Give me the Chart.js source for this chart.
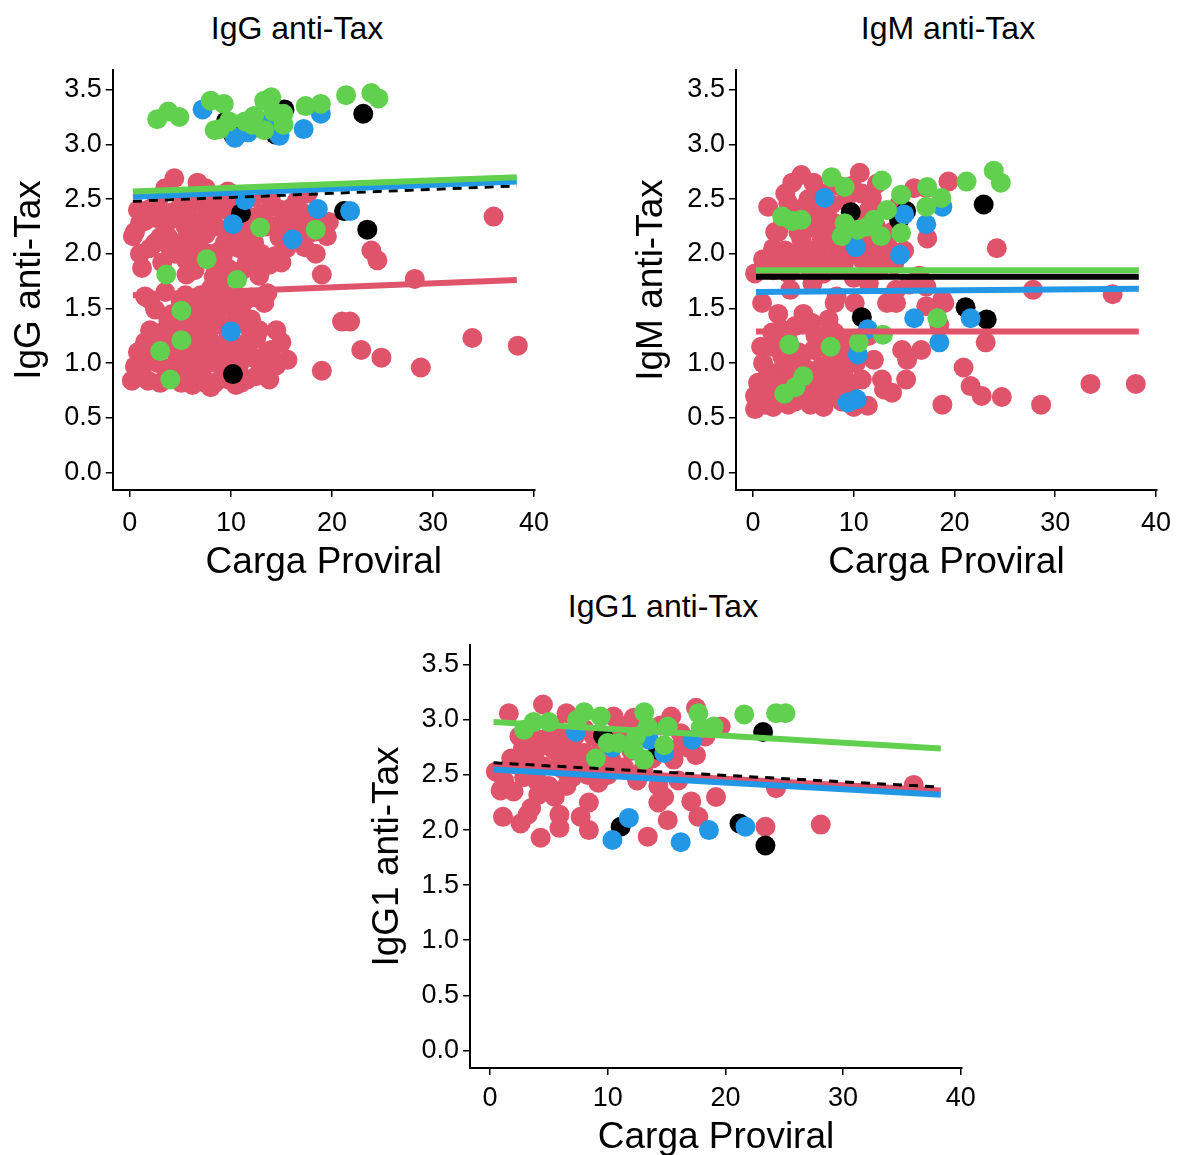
<!DOCTYPE html>
<html>
<head>
<meta charset="utf-8">
<script src="https://cdn.jsdelivr.net/npm/chart.js@4.4.1/dist/chart.umd.min.js"></script>
<style>
  body { margin: 0; background: #fff; width: 1181px; height: 1155px; overflow: hidden; position: relative;
         font-family: "Liberation Sans", Arial, sans-serif; }
  .panel { position: absolute; }
  .ttl { position: absolute; width: 300px; text-align: center; font-size: 32px; line-height: 38px; color: #000; }
</style>
</head>
<body>
<div class="ttl" style="left:147px; top:9px">IgG anti-Tax</div>
<div class="ttl" style="left:798px; top:9px">IgM anti-Tax</div>
<div class="ttl" style="left:513px; top:587px">IgG1 anti-Tax</div>

<div class="panel" style="left:0; top:0; width:590px; height:590px"><canvas id="igg"></canvas></div>
<div class="panel" style="left:620px; top:0; width:561px; height:590px"><canvas id="igm"></canvas></div>
<div class="panel" style="left:350px; top:575px; width:640px; height:590px"><canvas id="igg1"></canvas></div>

<script>
// tick labels
const xTicks = [0, 10, 20, 30, 40];
const yTicks = [0, 0.5, 1, 1.5, 2, 2.5, 3, 3.5];
const xLabel = 'Carga Proviral';

// x range of the fitted lines
const fitX = [0.3, 38.3];

// ---- IgG anti-Tax ----
const iggRedX = [4.4, 6.7, 9.7, 7.5, 0.5, 0.3, 1.2, 5.6, 8.3, 9.8, 19.0, 23.9, 24.5, 15.0, 14.3, 15.0, 14.4, 19.5, 19.7, 17.0,
  17.3, 1.8, 3.5, 5.1, 6.7, 8.4, 9.4, 8.4, 11.6, 12.3, 13.3, 11.1, 9.1, 2.8, 5.1, 7.1, 9.7, 12.3, 15.6, 17.6,
  6.4, 13.6, 36.0, 28.2, 2.5, 3.0, 4.2, 6.0, 7.5, 8.0, 10.2, 10.8, 12.5, 13.0, 4.5, 6.5, 3.5, 16.0, 16.5, 18.0,
  11.5, 7.0, 10.5, 12.8, 1.0, 2.0, 5.5, 15.5, 8.8, 18.4,
  1.5, 2.2, 3.0, 3.8, 4.8, 5.8, 6.2, 7.2, 8.2, 9.0, 9.5, 10.5, 11.2, 12.0, 12.8, 13.5, 14.0, 15.2, 16.0, 17.0,
  18.2, 2.5, 4.0, 5.5, 6.8, 7.8, 9.2, 10.0, 11.0, 12.5, 13.8, 16.5, 14.8, 3.2, 1.0, 8.5, 11.8, 0.8,
  1.5, 9.7, 13.3, 2.5, 21.0, 21.8, 6.7, 8.4, 1.5, 6.1, 7.7, 11.6, 15.0, 15.6, 22.9, 24.9, 19.0, 0.5, 0.2, 1.8,
  5.1, 7.1, 8.4, 11.6, 13.0, 7.7, 9.4, 13.3, 10.4, 5.1, 28.8, 33.9, 38.4, 3.5, 5.0, 7.0, 8.6, 3.8, 6.2, 9.0,
  10.5, 12.0, 4.5, 6.8, 8.0, 9.8, 12.5, 2.8, 4.0, 6.0, 8.8, 10.8, 12.2, 14.0, 3.0, 6.2, 7.5, 9.2, 10.5, 12.5,
  14.5, 13.8, 5.5, 11.2, 4.2, 2.0,
  0.8, 1.2, 2.2, 2.8, 3.5, 4.2, 5.0, 5.8, 6.5, 7.2, 7.8, 8.2, 9.0, 9.5, 10.0, 11.0, 11.5, 12.8, 13.5, 14.5,
  6.0, 7.0, 8.5, 9.8, 3.5, 4.8, 8.0, 11.0, 5.5, 8.0, 12.0, 2.0];
const iggRedY = [2.69, 2.65, 2.57, 2.60, 2.20, 2.16, 1.87, 1.81, 1.79, 1.86, 1.81, 2.03, 1.94, 2.40, 2.25, 1.92, 1.98, 2.16, 2.29, 2.25,
  2.06, 2.40, 2.25, 2.10, 2.04, 2.25, 2.10, 1.94, 1.94, 2.10, 2.37, 1.85, 1.76, 2.49, 2.46, 2.46, 2.52, 2.52, 2.37, 2.55,
  1.85, 1.64, 2.34, 1.77, 2.33, 2.15, 2.38, 2.30, 2.18, 2.38, 2.35, 2.05, 2.22, 2.00, 2.00, 2.55, 2.60, 2.20, 2.48, 2.32,
  2.28, 1.95, 1.62, 1.80, 2.28, 2.05, 2.25, 2.05, 2.02, 2.00,
  2.30, 2.42, 2.38, 2.15, 2.32, 2.42, 2.15, 2.30, 2.48, 2.40, 2.22, 2.48, 2.40, 2.18, 2.35, 2.25, 2.48, 2.30, 2.42, 2.38,
  2.20, 2.10, 2.05, 1.95, 2.10, 2.00, 1.98, 2.12, 2.20, 1.95, 1.90, 2.12, 2.15, 1.92, 2.00, 1.85, 2.05, 2.40,
  1.61, 1.61, 1.55, 1.49, 1.38, 1.38, 1.37, 1.43, 1.19, 1.22, 1.30, 1.19, 1.19, 1.03, 1.12, 1.05, 0.93, 0.97, 0.84, 0.84,
  0.82, 0.91, 0.82, 0.85, 0.97, 1.06, 1.00, 1.06, 1.12, 1.06, 0.96, 1.23, 1.16, 1.65, 1.58, 1.62, 1.58, 1.40, 1.50, 1.35,
  1.45, 1.40, 1.25, 1.15, 1.20, 1.25, 1.22, 1.00, 0.95, 0.98, 1.10, 0.98, 1.05, 1.12, 0.82, 0.80, 0.82, 0.86, 0.80, 0.88,
  0.98, 0.85, 1.40, 1.55, 1.12, 1.30,
  1.10, 0.95, 1.05, 1.20, 1.30, 1.45, 1.30, 1.10, 1.30, 1.45, 1.55, 1.35, 1.50, 1.15, 0.92, 1.15, 1.35, 1.30, 0.92, 1.30,
  0.88, 1.05, 1.00, 0.85, 0.85, 0.92, 0.78, 0.82, 1.62, 1.68, 1.60, 1.58];
const iggBlackX = [10.2, 14.4, 15.3, 23.1, 9.5, 11.0, 21.2, 23.5, 10.2];
const iggBlackY = [3.09, 3.09, 3.32, 3.28, 3.21, 2.37, 2.39, 2.22, 0.90];
const iggBlueX = [7.2, 10.4, 11.7, 14.8, 17.2, 18.9, 13.6, 10.2, 11.4, 16.1, 18.6, 21.8, 10.0];
const iggBlueY = [3.32, 3.06, 3.11, 3.08, 3.14, 3.28, 3.21, 2.27, 2.49, 2.13, 2.41, 2.39, 1.29];
const iggGreenX = [2.7, 3.8, 4.9, 8.0, 9.3, 8.9, 9.8, 11.4, 12.3, 12.1, 13.3, 14.0, 13.3, 14.2, 15.2, 15.2, 17.4, 18.9, 21.4, 23.9,
  24.6, 8.4, 12.9, 18.4, 7.6, 3.6, 10.6, 5.1, 5.1, 3.0, 4.0];
const iggGreenY = [3.23, 3.30, 3.25, 3.40, 3.37, 3.14, 3.21, 3.21, 3.26, 3.18, 3.40, 3.43, 3.13, 3.30, 3.28, 3.18, 3.35, 3.37, 3.45, 3.47,
  3.42, 3.13, 2.24, 2.22, 1.95, 1.81, 1.76, 1.48, 1.21, 1.11, 0.85];
const iggFitRed = [1.62, 1.76];
const iggFitBlack = [2.48, 2.62];
const iggFitBlue = [2.52, 2.66];
const iggFitGreen = [2.57, 2.70];

// ---- IgM anti-Tax ----
const igmRedX = [4.8, 10.6, 19.4, 1.5, 3.9, 3.5, 24.2, 17.3, 17.2, 12.3, 6.4, 11.8, 6.8, 10.8, 9.2, 3.2, 4.8, 6.4, 8.1, 4.8,
  7.6, 11.4, 12.0, 2.8, 9.6, 13.0, 15.0, 6.4, 8.1, 5.7, 2.5, 4.0, 7.2, 9.0, 10.5, 11.0, 13.8, 14.5, 16.0, 5.5,
  8.5, 2.0, 3.5, 5.5, 7.0, 9.0, 10.0, 12.5, 14.0, 16.5, 15.5,
  2.2, 3.0, 3.8, 4.5, 5.2, 6.0, 6.8, 7.5, 8.2, 8.8, 9.5, 10.2, 10.8, 11.5, 12.2, 12.8, 13.5, 4.2, 6.0, 8.0,
  11.8, 2.0, 5.0, 7.8, 3.2, 6.0, 9.8, 1.0,
  0.2, 0.9, 3.7, 27.8, 35.7, 23.1, 20.9, 21.6, 22.7, 24.7, 28.6, 18.8, 33.5, 38.0, 18.8, 17.2, 15.2, 12.8, 13.8, 14.8,
  14.2, 11.5, 8.3, 5.9, 14.2, 17.2, 8.1, 10.1, 13.3, 19.0, 16.7, 15.3, 13.0, 12.0, 18.5,
  0.2, 0.2, 1.5, 2.8, 4.2, 5.7, 7.3, 5.7, 8.1, 6.8, 4.8, 2.9, 1.9, 4.2, 5.8, 8.1, 9.1, 2.3, 10.8, 11.4,
  5.3, 9.6, 1.0, 3.5, 6.5, 7.5, 9.8, 3.0, 7.0, 8.8, 10.2, 1.2, 4.5, 6.2, 2.5, 11.5, 0.8,
  0.5, 1.0, 2.0, 2.5, 3.5, 3.8, 4.8, 5.2, 6.0, 6.5, 7.5, 8.5, 9.0, 7.8, 6.0, 3.0, 4.5, 8.5, 10.0, 2.0,
  1.5, 5.0, 7.0, 3.8];
const igmRedY = [2.72, 2.74, 2.66, 2.43, 2.65, 2.46, 2.05, 2.14, 2.60, 2.64, 2.37, 2.51, 2.55, 2.55, 2.48, 2.03, 2.13, 2.03, 2.09, 1.94,
  1.94, 1.97, 2.09, 1.94, 2.03, 1.97, 2.03, 2.22, 2.28, 2.37, 2.20, 2.30, 2.15, 2.18, 2.30, 2.12, 2.20, 2.45, 2.60, 2.50,
  2.62, 1.85, 1.82, 1.88, 1.82, 1.90, 1.78, 1.85, 1.90, 1.80, 1.72,
  2.20, 2.30, 2.00, 2.20, 2.05, 2.28, 2.12, 2.32, 2.20, 2.00, 2.30, 2.15, 1.95, 2.40, 2.25, 2.10, 2.05, 1.90, 1.95, 1.88,
  1.85, 2.05, 2.42, 2.45, 2.55, 2.65, 2.62, 1.95,
  1.82, 1.55, 1.67, 1.67, 1.63, 1.19, 0.96, 0.79, 0.70, 0.69, 0.62, 0.62, 0.81, 0.81, 1.58, 1.70, 0.85, 0.85, 0.73, 1.12,
  1.67, 1.73, 1.61, 1.73, 1.55, 1.52, 1.55, 1.55, 1.55, 1.55, 1.12, 1.03, 0.76, 1.03, 1.35,
  0.70, 0.58, 0.76, 0.70, 0.65, 0.62, 0.70, 0.79, 0.91, 0.97, 1.06, 1.06, 1.28, 1.34, 1.37, 1.28, 1.06, 0.91, 0.85, 0.61,
  0.70, 0.79, 1.00, 1.20, 1.15, 1.40, 1.20, 0.85, 0.60, 0.65, 1.00, 0.62, 0.90, 1.25, 1.45, 1.25, 1.15,
  0.82, 0.68, 0.60, 0.80, 0.62, 0.75, 0.78, 0.95, 0.70, 0.85, 0.80, 0.75, 0.90, 1.05, 1.12, 1.30, 1.10, 1.15, 0.60, 1.15,
  0.90, 1.45, 1.25, 0.95];
const igmBlackX = [9.7, 14.5, 15.2, 22.9, 10.8, 21.1, 23.2];
const igmBlackY = [2.38, 2.31, 2.39, 2.45, 1.42, 1.51, 1.40];
const igmBlueX = [7.1, 10.2, 14.6, 17.2, 18.8, 16.0, 21.6, 18.5, 10.4, 9.4, 10.3, 11.4, 15.0];
const igmBlueY = [2.51, 2.06, 1.99, 2.27, 2.43, 1.41, 1.41, 1.19, 1.08, 0.64, 0.67, 1.31, 2.36];
const igmGreenX = [7.8, 9.1, 12.8, 21.2, 23.9, 24.6, 2.9, 4.8, 3.9, 9.1, 8.8, 10.4, 12.0, 13.3, 14.7, 12.7, 14.7, 17.3, 18.7, 17.2,
  11.4, 18.3, 3.6, 7.7, 10.5, 12.9, 5.0, 3.1, 4.2];
const igmGreenY = [2.70, 2.61, 2.67, 2.66, 2.76, 2.65, 2.34, 2.31, 2.30, 2.28, 2.16, 2.22, 2.31, 2.40, 2.54, 2.16, 2.19, 2.61, 2.51, 2.43,
  2.25, 1.41, 1.17, 1.15, 1.19, 1.26, 0.88, 0.72, 0.78];
const igmFitRed = [1.29, 1.29];
const igmFitBlack = [1.79, 1.79];
const igmFitBlue = [1.65, 1.68];
const igmFitGreen = [1.85, 1.85];

// ---- IgG1 anti-Tax ----
const igg1RedX = [1.6, 4.5, 6.5, 10.5, 15.4, 17.5, 19.6, 0.5, 0.9, 1.1, 2.6, 4.3, 5.9, 5.9, 7.7, 8.4, 8.4, 3.2, 13.4, 15.1,
  14.3, 17.1, 17.7, 19.2, 17.5, 15.6, 23.4, 28.1, 24.3, 36.0, 4.1, 5.4, 2.9, 4.1, 5.0, 4.1, 6.9, 8.3, 9.2, 14.3,
  14.8, 3.5, 6.5, 7.5, 6.0, 15.6, 12.2, 5.9, 4.9, 4.1, 2.8, 10.3, 11.4, 8.8, 11.0, 13.0, 7.0, 9.8, 12.0, 16.2,
  18.3, 2.0, 1.2, 6.2, 8.0, 3.3,
  1.8, 2.5, 3.0, 3.8, 4.5, 5.5, 6.5, 7.2, 8.0, 8.8, 9.5, 10.8, 11.8, 12.8, 13.8, 14.5, 16.8, 5.5, 6.5, 3.5,
  2.0, 10.0, 12.5, 16.0];
const igg1RedY = [3.06, 3.14, 3.06, 3.03, 3.03, 3.11, 2.94, 2.53, 2.36, 2.12, 2.06, 1.93, 2.14, 2.02, 2.12, 2.25, 2.00, 2.14, 1.94, 2.09,
  2.25, 2.26, 2.12, 2.30, 2.68, 2.64, 2.03, 2.05, 2.38, 2.41, 2.75, 2.73, 2.48, 2.43, 2.40, 2.32, 2.75, 2.50, 2.43, 2.40,
  2.30, 2.65, 2.82, 2.60, 2.64, 2.73, 3.02, 2.88, 2.84, 2.82, 2.75, 2.64, 2.57, 2.85, 2.95, 2.55, 2.48, 2.62, 2.72, 2.88,
  2.85, 2.60, 2.45, 2.55, 2.92, 2.90,
  2.65, 2.85, 2.58, 2.70, 2.58, 2.95, 2.68, 2.85, 2.70, 2.60, 2.75, 2.80, 2.90, 2.85, 2.65, 2.95, 2.75, 2.30, 2.40, 2.20,
  2.35, 2.50, 2.45, 2.45];
const igg1BlackX = [11.1, 14.3, 21.2, 23.2, 23.4, 9.6];
const igg1BlackY = [2.03, 2.73, 2.06, 2.89, 1.86, 2.86];
const igg1BlueX = [7.3, 10.4, 13.5, 17.2, 11.8, 10.4, 16.2, 18.6, 21.7, 14.8];
const igg1BlueY = [2.89, 2.75, 2.82, 2.82, 2.11, 1.91, 1.89, 2.00, 2.03, 2.70];
const igg1GreenX = [3.7, 5.0, 2.9, 8.0, 9.4, 10.0, 9.0, 13.1, 13.4, 12.2, 13.1, 14.8, 15.1, 17.7, 17.9, 19.0, 21.6, 24.3, 25.1, 10.9,
  7.4, 12.4];
const igg1GreenY = [2.98, 2.98, 2.91, 3.07, 3.03, 2.79, 2.65, 3.07, 2.94, 2.73, 2.64, 2.77, 2.94, 3.06, 2.93, 2.94, 3.05, 3.06, 3.06, 2.79,
  3.00, 2.85];
const igg1FitRed = [2.58, 2.36];
const igg1FitBlack = [2.61, 2.39];
const igg1FitBlue = [2.55, 2.32];
const igg1FitGreen = [2.98, 2.74];

const colors = { red: '#DF536B', black: '#000000', blue: '#2297E6', green: '#61D04F' };
const groupOrder = ['red', 'black', 'blue', 'green'];

Chart.defaults.font.family = '"Liberation Sans", Arial, sans-serif';
Chart.defaults.color = '#000';

function points(xs, ys) {
  return xs.map((x, i) => ({ x: x, y: ys[i] }));
}

function makePanel(id, yLabel, pts, fits, lay) {
  const datasets = [];
  groupOrder.forEach((g, k) => {
    datasets.push({
      data: points(pts[g][0], pts[g][1]),
      backgroundColor: colors[g],
      pointRadius: 10,
      pointBorderWidth: 0,
      order: 20 - k
    });
  });
  groupOrder.forEach((g, k) => {
    const dashed = g === 'black' && lay.dashBlack;
    datasets.push({
      data: points(fitX, fits[g]),
      showLine: true,
      borderColor: colors[g],
      borderWidth: dashed ? 3 : 6,
      borderDash: dashed ? [9, 7] : [],
      pointRadius: 0,
      order: 10 - k
    });
  });

  new Chart(document.getElementById(id), {
    type: 'scatter',
    data: { datasets: datasets },
    options: {
      responsive: true,
      maintainAspectRatio: false,
      animation: false,
      layout: { padding: { top: 70, right: lay.right, left: 0, bottom: 0 } },
      plugins: { legend: { display: false }, tooltip: { enabled: false } },
      scales: {
        x: {
          type: 'linear',
          min: -1.7,
          max: 40.1,
          afterBuildTicks: s => { s.ticks = xTicks.map(v => ({ value: v })); },
          afterFit: s => { s.height = lay.xh; },
          grid: { display: true, drawOnChartArea: false, drawTicks: true, tickLength: 7, color: '#000', lineWidth: 1.5 },
          border: { display: true, color: '#000', width: 2 },
          ticks: { font: { size: 27 }, padding: lay.xtp, maxRotation: 0, color: '#000' },
          title: { display: true, text: xLabel, font: { size: 37 }, color: '#000', padding: { top: 0, bottom: 5 } }
        },
        y: {
          type: 'linear',
          min: -0.16,
          max: 3.68,
          afterBuildTicks: s => { s.ticks = yTicks.map(v => ({ value: v })); },
          afterFit: s => { s.width = lay.yw; },
          grid: { display: true, drawOnChartArea: false, drawTicks: true, tickLength: 7, color: '#000', lineWidth: 1.5 },
          border: { display: true, color: '#000', width: 2 },
          ticks: { font: { size: 27 }, padding: 4, color: '#000', callback: v => v.toFixed(1) },
          title: { display: true, text: yLabel, font: { size: 37 }, color: '#000', padding: { top: lay.ytp, bottom: 0 } }
        }
      }
    }
  });
}

makePanel('igg', 'IgG anti-Tax',
  { red: [iggRedX, iggRedY], black: [iggBlackX, iggBlackY], blue: [iggBlueX, iggBlueY], green: [iggGreenX, iggGreenY] },
  { red: iggFitRed, black: iggFitBlack, blue: iggFitBlue, green: iggFitGreen },
  { right: 55, yw: 112.7, xh: 100, xtp: 10, ytp: 8, dashBlack: true });

makePanel('igm', 'IgM anti-Tax',
  { red: [igmRedX, igmRedY], black: [igmBlackX, igmBlackY], blue: [igmBlueX, igmBlueY], green: [igmGreenX, igmGreenY] },
  { red: igmFitRed, black: igmFitBlack, blue: igmFitBlue, green: igmFitGreen },
  { right: 22, yw: 115.9, xh: 100, xtp: 10, ytp: 10, dashBlack: false });

makePanel('igg1', 'IgG1 anti-Tax',
  { red: [igg1RedX, igg1RedY], black: [igg1BlackX, igg1BlackY], blue: [igg1BlueX, igg1BlueY], green: [igg1GreenX, igg1GreenY] },
  { red: igg1FitRed, black: igg1FitBlack, blue: igg1FitBlue, green: igg1FitGreen },
  { right: 28, yw: 120, xh: 97, xtp: 7, ytp: 16, dashBlack: true });
</script>
</body>
</html>
